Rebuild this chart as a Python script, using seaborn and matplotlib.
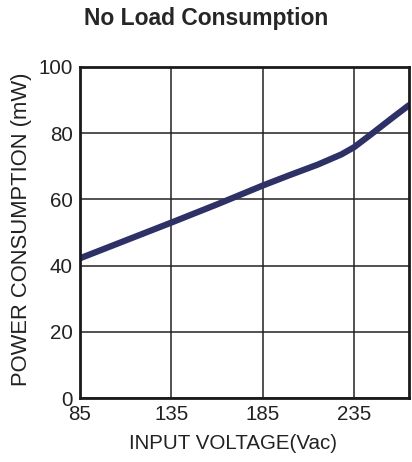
import matplotlib
matplotlib.use("Agg")
import matplotlib.pyplot as plt
import seaborn as sns
import pandas as pd

voltage = [85, 110, 135, 160, 185, 200, 215, 228, 235, 245, 255, 265]
power = [42.2, 47.6, 53.0, 58.5, 64.2, 67.4, 70.5, 73.6, 75.8, 80.0, 84.3, 88.5]
x_ticks = [85, 135, 185, 235]
y_ticks = [0, 20, 40, 60, 80, 100]

df = pd.DataFrame({"voltage": voltage, "power": power})

sns.set_style("white")
plt.rcParams['font.family'] = ['Liberation Sans', 'DejaVu Sans']

fig = plt.figure(figsize=(4.12, 4.62), dpi=100)
ax = fig.add_axes([0.194, 0.1385, 0.799, 0.7165])

sns.lineplot(data=df, x="voltage", y="power", ax=ax, color="#2e3166", linewidth=4.5)

ax.set_xlim(85, 265)
ax.set_ylim(0, 100)
ax.set_xticks(x_ticks)
ax.set_yticks(y_ticks)
ax.grid(True, color="#222222", linewidth=1.1)
ax.set_axisbelow(True)
for s in ax.spines.values():
    s.set_color("#1a1a1a")
    s.set_linewidth(2)

ax.tick_params(axis="both", labelsize=14.8, length=0, colors="#222222", pad=5)
ax.set_xlabel("INPUT VOLTAGE(Vac)", fontsize=14.8, color="#222222")
ax.set_ylabel("POWER CONSUMPTION (mW)", fontsize=15.8, color="#222222")
ax.xaxis.set_label_coords(0.464, -0.11)
ax.yaxis.set_label_coords(-0.145, 0.51)
fig.suptitle("No Load Consumption", fontsize=16.5, fontweight="bold", x=0.5, y=0.985)

fig.savefig("out.png", dpi=100)
